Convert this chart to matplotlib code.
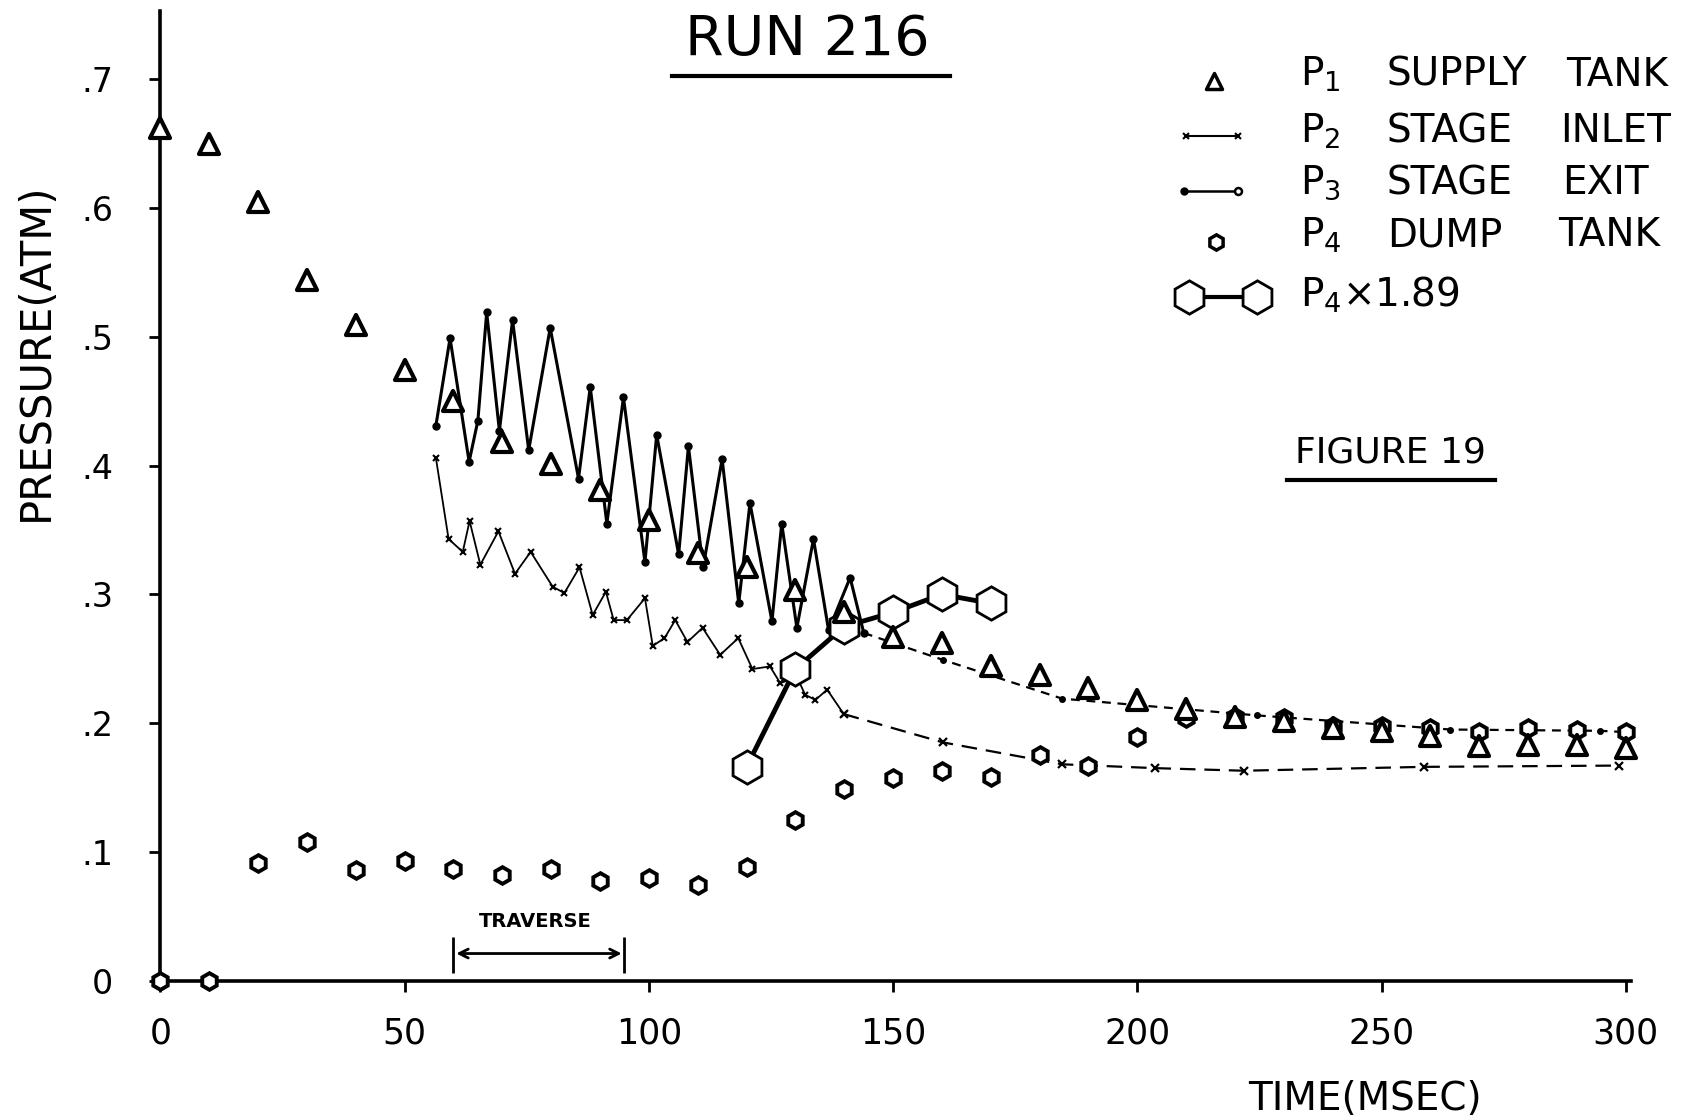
import matplotlib
matplotlib.use("Agg")
import matplotlib.pyplot as plt
from matplotlib.lines import Line2D
from matplotlib.markers import MarkerStyle

# P1 supply tank (triangles)
t_p1 = list(range(0, 301, 10))
p1 = [0.662, 0.650, 0.605, 0.544, 0.509, 0.474, 0.450, 0.418, 0.401, 0.381,
      0.358, 0.332, 0.321, 0.303, 0.286, 0.267, 0.262, 0.244, 0.237, 0.227,
      0.218, 0.211, 0.205, 0.202, 0.196, 0.194, 0.190, 0.182, 0.183, 0.183, 0.181]

# P4 dump tank (small hexagons)
t_p4 = list(range(0, 301, 10))
p4 = [0.0, 0.0, 0.091, 0.108, 0.086, 0.093, 0.087, 0.082, 0.087, 0.077,
      0.080, 0.074, 0.088, 0.125, 0.149, 0.157, 0.163, 0.158, 0.175, 0.167,
      0.189, 0.204, 0.205, 0.204, 0.198, 0.198, 0.196, 0.193, 0.196, 0.195, 0.193]

# P4 x 1.89 (big hexagons)
t_p4x = [120, 130, 140, 150, 160, 170]
p4x = [0.166, 0.242, 0.275, 0.286, 0.300, 0.293]

# P3 stage exit, solid zigzag then dashed tail
t_p3 = [56.4, 59.3, 63.2, 65.0, 66.8, 69.4, 72.1, 75.4, 79.8, 85.6, 88.0, 91.4,
        94.8, 99.2, 101.6, 106.1, 108.1, 111.1, 115.0, 118.4, 120.7, 125.2,
        127.2, 130.3, 133.7, 136.8, 141.2, 144.0]
p3 = [0.431, 0.499, 0.403, 0.435, 0.519, 0.427, 0.513, 0.412, 0.507, 0.390,
      0.461, 0.355, 0.453, 0.325, 0.424, 0.331, 0.415, 0.321, 0.405, 0.293,
      0.371, 0.279, 0.355, 0.274, 0.343, 0.272, 0.313, 0.270]
t_p3_tail = [144.0, 160.3, 184.6, 224.4, 264.1, 294.8, 300.0]
p3_tail = [0.270, 0.249, 0.219, 0.206, 0.195, 0.194, 0.193]

# P2 stage inlet, solid zigzag then dashed tail
t_p2 = [56.4, 59.0, 61.9, 63.3, 65.5, 69.2, 72.6, 75.8, 80.3, 82.7, 85.8, 88.5,
        91.2, 92.8, 95.5, 99.2, 100.8, 103.2, 105.4, 107.9, 111.0, 114.6,
        118.3, 121.2, 124.8, 126.9, 130.3, 132.0, 134.1, 136.5, 139.9]
p2 = [0.406, 0.343, 0.333, 0.357, 0.323, 0.349, 0.316, 0.333, 0.306, 0.301,
      0.321, 0.284, 0.302, 0.280, 0.280, 0.297, 0.260, 0.266, 0.280, 0.263,
      0.274, 0.253, 0.266, 0.242, 0.244, 0.231, 0.236, 0.222, 0.218, 0.226, 0.207]
t_p2_tail = [139.9, 160.2, 184.6, 203.7, 221.8, 258.6, 298.6]
p2_tail = [0.207, 0.185, 0.168, 0.165, 0.163, 0.166, 0.167]

y_ticks = [0, 0.1, 0.2, 0.3, 0.4, 0.5, 0.6, 0.7]
y_labels = ['0', '.1', '.2', '.3', '.4', '.5', '.6', '.7']
x_ticks = [0, 50, 100, 150, 200, 250, 300]
traverse = (60, 95)

W, H = 1568.0, 1034.0  # layout measured on the shrunk reference


def fp(x, y):
    return x / W, 1 - y / H


fig = plt.figure(figsize=(16.99, 11.2), dpi=100)
ax = fig.add_axes([0.0944, 0.1245, 0.8654, 0.8655])

tri = MarkerStyle('^', joinstyle='round')

ax.plot(t_p3, p3, '-', color='k', lw=2.2, marker='o', ms=5, zorder=2)
ax.plot(t_p3_tail, p3_tail, color='k', lw=1.6, dashes=(4, 3), marker='o', ms=4, zorder=2)
ax.plot(t_p2, p2, '-', color='k', lw=1.3, marker='x', ms=5, mew=1.5, zorder=2)
ax.plot(t_p2_tail, p2_tail, color='k', lw=1.6, dashes=(7, 4), marker='x', ms=6, mew=1.6, zorder=2)
ax.plot(t_p4x, p4x, '-', color='k', lw=3.5, marker='h', ms=24, mfc='white', mec='k',
        mew=2, zorder=3)
ax.plot(t_p4, p4, ls='none', marker='h', ms=12, mfc='white', mec='k', mew=2.8,
        zorder=4, clip_on=False)
ax.plot(t_p1, p1, ls='none', marker=tri, ms=14, mfc='white', mec='k', mew=3,
        zorder=5, clip_on=False)

# traverse marker
ax.annotate('', xy=(traverse[0], 0.021), xytext=(traverse[1], 0.021),
            arrowprops=dict(arrowstyle='<->', lw=2, color='k', mutation_scale=16))
ax.vlines(traverse, 0.006, 0.034, color='k', lw=2)
ax.text(sum(traverse) / 2 - 0.7, 0.046, 'TRAVERSE', ha='center', va='center',
        fontsize=14, fontweight='bold')

ax.set_xlim(0, 301)
ax.set_ylim(0, 0.753)
ax.set_yticks(y_ticks, y_labels, fontsize=24)
ax.set_xticks(x_ticks, [str(v) for v in x_ticks], fontsize=25)
ax.tick_params(axis='y', length=8, width=2, pad=26)
ax.tick_params(axis='x', length=8, width=2, pad=18)
for s in ['top', 'right']:
    ax.spines[s].set_visible(False)
for s in ['left', 'bottom']:
    ax.spines[s].set_linewidth(2.6)

# titles and axis labels
x, y = fp(745, 37)
fig.text(x, y, 'RUN 216', ha='center', va='center', fontsize=40)
fig.add_artist(Line2D([620 / W, 877 / W], [fp(0, 70)[1]] * 2, lw=3, color='k'))
x, y = fp(1283, 418)
fig.text(x, y, 'FIGURE 19', ha='center', va='center', fontsize=26)
fig.add_artist(Line2D([1188 / W, 1380 / W], [fp(0, 443)[1]] * 2, lw=3, color='k'))
x, y = fp(33, 325)
fig.text(x, y, 'PRESSURE(ATM)', ha='center', va='center', rotation=90, fontsize=30)
x, y = fp(1260, 1015)
fig.text(x, y, 'TIME(MSEC)', ha='center', va='center', fontsize=28)

# hand-drawn legend block
rows = [
    (69, 'P$_1$', 'SUPPLY', 'TANK', 1445),
    (121, 'P$_2$', 'STAGE', 'INLET', 1440),
    (169, 'P$_3$', 'STAGE', 'EXIT', 1442),
    (217, 'P$_4$', 'DUMP', 'TANK', 1438),
]
for yy, p, w1, w2, x2 in rows:
    fig.text(1200 / W, fp(0, yy)[1], p, va='center', fontsize=28)
    fig.text(1280 / W, fp(0, yy)[1], w1, va='center', fontsize=28)
    fig.text(x2 / W, fp(0, yy)[1], w2, va='center', fontsize=28)
fig.text(1200 / W, fp(0, 272)[1], 'P$_4$\u00d71.89', va='center', fontsize=28)

fig.add_artist(Line2D([1120 / W], [fp(0, 75)[1]], marker=tri, ms=11, mfc='white',
                      mec='k', mew=2.5, ls='none'))
fig.add_artist(Line2D([1095 / W, 1143 / W], [fp(0, 126)[1]] * 2, color='k', lw=1.5,
                      marker='x', ms=5, mew=1.5))
fig.add_artist(Line2D([1093 / W, 1143 / W], [fp(0, 176)[1]] * 2, color='k', lw=1.8))
fig.add_artist(Line2D([1093 / W], [fp(0, 176)[1]], marker='o', ms=5, color='k', ls='none'))
fig.add_artist(Line2D([1143 / W], [fp(0, 176)[1]], marker='o', ms=5, mfc='white',
                      mec='k', mew=1.8, ls='none'))
fig.add_artist(Line2D([1122 / W], [fp(0, 223)[1]], marker='h', ms=11, mfc='white',
                      mec='k', mew=2.5, ls='none'))
fig.add_artist(Line2D([1097 / W, 1160 / W], [fp(0, 274)[1]] * 2, color='k', lw=3,
                      marker='h', ms=24, mfc='white', mec='k', mew=2))

fig.savefig('out.png', dpi=100)
